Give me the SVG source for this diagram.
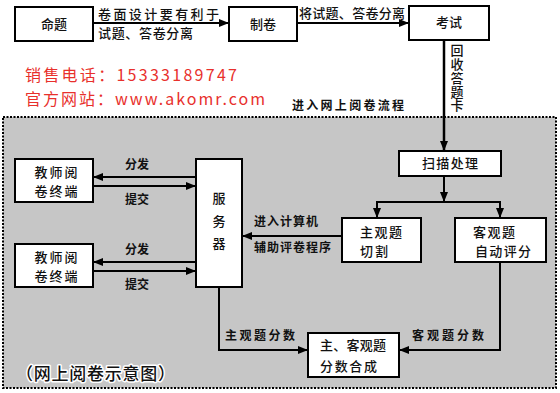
<svg xmlns="http://www.w3.org/2000/svg" width="560" height="393" viewBox="0 0 560 393">
<defs>
<marker id="ah" markerUnits="userSpaceOnUse" markerWidth="10" markerHeight="10" viewBox="0 0 10 10" refX="10" refY="5" orient="auto">
<path d="M0,1 L10,5 L0,9 z" fill="#000"/>
</marker>
</defs>
<style>
text{font-family:"Noto Sans CJK SC","Noto Sans",sans-serif;fill:#111;}
.box{fill:#fff;stroke:#000;stroke-width:2;}
.t{font-size:13px;font-weight:500;}
.lb{font-size:12px;font-weight:700;}
.ln{fill:none;stroke:#000;stroke-width:2;}
.ar{fill:none;stroke:#000;stroke-width:2;marker-end:url(#ah);}
.red{font-family:"Noto Sans CJK SC",sans-serif;font-size:16px;fill:#e8302c;}
</style>
<rect x="0" y="0" width="560" height="393" fill="#fff"/>
<rect id="area" x="3" y="117" width="553" height="271" fill="#c6c6c6" stroke="#000" stroke-width="2" stroke-dasharray="2 1.5"/>

<g id="connectors">
<line class="ar" x1="93" y1="23" x2="229" y2="23"/>
<line class="ar" x1="297" y1="23" x2="409" y2="23"/>
<line class="ar" x1="444" y1="40" x2="444" y2="151" style="stroke-width:2.5"/>
<line class="ar" x1="444" y1="176" x2="444" y2="202"/>
<polyline class="ln" points="377,211 377,202 500,202 500,211"/>
<line class="ar" x1="377" y1="206" x2="377" y2="218"/>
<line class="ar" x1="500" y1="206" x2="500" y2="218"/>
<line class="ar" x1="342" y1="236" x2="242" y2="236"/>
<line class="ar" x1="196" y1="177" x2="93" y2="177"/>
<line class="ar" x1="93" y1="186" x2="196" y2="186"/>
<line class="ar" x1="196" y1="262" x2="93" y2="262"/>
<line class="ar" x1="93" y1="271" x2="196" y2="271"/>
<polyline class="ar" points="219,287 219,350 308,350"/>
<polyline class="ar" points="500,262 500,350 399,350"/>
</g>

<g id="labels">
<text class="t" x="98" y="19" textLength="121">卷面设计要有利于</text>
<text class="t" x="98" y="38" textLength="95">试题、答卷分离</text>
<text class="t" x="299" y="18" textLength="106">将试题、答卷分离</text>
<text class="t" x="457" y="44" style="writing-mode:vertical-rl;text-orientation:upright;letter-spacing:2px" textLength="70">回收答题卡</text>
<text class="lb" x="292" y="110" textLength="112">进入网上阅卷流程</text>
<text class="lb" x="125" y="169">分发</text>
<text class="lb" x="125" y="204">提交</text>
<text class="lb" x="125" y="254">分发</text>
<text class="lb" x="125" y="289">提交</text>
<text class="lb" x="254" y="226" textLength="64">进入计算机</text>
<text class="lb" x="254" y="252" textLength="77">辅助评卷程序</text>
<text class="lb" x="225" y="340" textLength="70">主观题分数</text>
<text class="lb" x="412" y="340" textLength="72">客观题分数</text>
<text x="16" y="380" textLength="159" style="font-size:17px;font-weight:500;stroke:#fff;stroke-width:3;paint-order:stroke;stroke-linejoin:round">（网上阅卷示意图）</text>
<text class="red" x="25" y="81" textLength="212">销售电话：15333189747</text>
<text class="red" x="25" y="105" textLength="240">官方网站：www.akomr.com</text>
</g>

<g id="mingti"><rect class="box" x="15" y="7" width="78" height="34"/><text class="t" x="54" y="29" text-anchor="middle">命题</text></g>
<g id="zhijuan"><rect class="box" x="229" y="7" width="68" height="34"/><text class="t" x="263" y="29" text-anchor="middle">制卷</text></g>
<g id="kaoshi"><rect class="box" x="409" y="6" width="80" height="34"/><text class="t" x="449" y="27" text-anchor="middle">考试</text></g>
<g id="saomiao"><rect class="box" x="399" y="151" width="102" height="25"/><text class="t" x="450" y="168" text-anchor="middle" textLength="56">扫描处理</text></g>
<g id="zhuguan"><rect class="box" x="342" y="218" width="79" height="44"/><text class="t" x="360" y="237" textLength="42">主观题</text><text class="t" x="360" y="256" textLength="28">切割</text></g>
<g id="keguan"><rect class="box" x="455" y="218" width="91" height="44"/><text class="t" x="473" y="237" textLength="42">客观题</text><text class="t" x="475" y="256" textLength="56">自动评分</text></g>
<g id="teacher1"><rect class="box" x="15" y="159" width="78" height="43"/><text class="t" x="56" y="177" text-anchor="middle" textLength="43">教师阅</text><text class="t" x="56" y="196" text-anchor="middle" textLength="43">卷终端</text></g>
<g id="teacher2"><rect class="box" x="15" y="244" width="78" height="43"/><text class="t" x="56" y="262" text-anchor="middle" textLength="43">教师阅</text><text class="t" x="56" y="281" text-anchor="middle" textLength="43">卷终端</text></g>
<g id="server"><rect class="box" x="196" y="159" width="46" height="128"/><text class="t" x="219" y="203" text-anchor="middle">服</text><text class="t" x="219" y="226" text-anchor="middle">务</text><text class="t" x="219" y="248" text-anchor="middle">器</text></g>
<g id="hecheng"><rect class="box" x="308" y="333" width="91" height="44"/><text class="t" x="320" y="350" textLength="66">主、客观题</text><text class="t" x="320" y="371" textLength="57">分数合成</text></g>
</svg>
